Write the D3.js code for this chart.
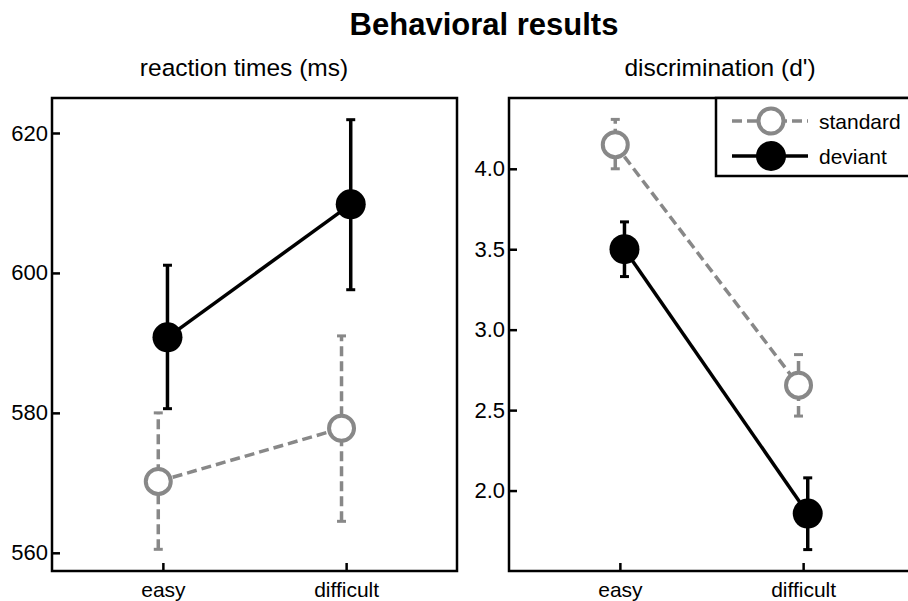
<!DOCTYPE html>
<html>
<head>
<meta charset="utf-8">
<script src="https://cdn.jsdelivr.net/npm/d3@7"></script>
<style>
  body { margin: 0; background: #fff; }
  svg { display: block; font-family: "Liberation Sans", Arial, sans-serif; }
</style>
</head>
<body>
<div id="chart"></div>
<script>
// conditions and legend entries
var conditions = ["easy", "difficult"];
var seriesNames = ["standard", "deviant"];

// reaction times (ms): mean, lower and upper end of error bar
var rtStandard = [570.2, 577.8];
var rtStandardLow = [560.5, 564.5];
var rtStandardHigh = [580.0, 591.0];
var rtDeviant = [590.8, 609.8];
var rtDeviantLow = [580.6, 597.6];
var rtDeviantHigh = [601.1, 621.9];
var rtTicks = [560, 580, 600, 620];

// discrimination (d')
var dpStandard = [4.15, 2.655];
var dpStandardLow = [4.0, 2.463];
var dpStandardHigh = [4.307, 2.845];
var dpDeviant = [3.5, 1.857];
var dpDeviantLow = [3.33, 1.633];
var dpDeviantHigh = [3.67, 2.079];
var dpTicks = [2.0, 2.5, 3.0, 3.5, 4.0];

var grey = "#888888";

function rows(mean, low, high) {
    return conditions.map(function(c, i) {
        return {cond: c, mean: mean[i], low: low[i], high: high[i]};
    });
}

var panels = [
    {title: "reaction times (ms)", titleX: 244, left: 52, domain: [557.4, 625],
     ticks: rtTicks, fmt: d3.format("d"),
     standard: rows(rtStandard, rtStandardLow, rtStandardHigh),
     deviant: rows(rtDeviant, rtDeviantLow, rtDeviantHigh)},
    {title: "discrimination (d')", titleX: 720, left: 509, domain: [1.5, 4.44],
     ticks: dpTicks, fmt: d3.format(".1f"),
     standard: rows(dpStandard, dpStandardLow, dpStandardHigh),
     deviant: rows(dpDeviant, dpDeviantLow, dpDeviantHigh)}
];

var W = 908, H = 601;
var plotTop = 98, boxW = 405, boxH = 473;

var svg = d3.select("#chart")
    .append("svg")
    .attr("width", W)
    .attr("height", H);

svg.append("text")
    .attr("x", 484)
    .attr("y", 35)
    .attr("text-anchor", "middle")
    .style("font-size", "31px")
    .style("font-weight", "bold")
    .text("Behavioral results");

var styles = {
    standard: {color: grey, dash: "10,5", off: -4.6},
    deviant: {color: "#000", dash: null, off: 4.6}
};

panels.forEach(function(p) {
    svg.append("text")
        .attr("x", p.titleX)
        .attr("y", 76)
        .attr("text-anchor", "middle")
        .style("font-size", "24.5px")
        .text(p.title);

    var g = svg.append("g")
        .attr("transform", "translate(" + p.left + "," + plotTop + ")");

    var x = d3.scalePoint()
        .domain(conditions)
        .range([0, boxW])
        .padding(0.605);

    var y = d3.scaleLinear()
        .domain(p.domain)
        .range([boxH, 0]);

    // axes, ticks pointing inside
    var ya = g.append("g")
        .call(d3.axisLeft(y).tickValues(p.ticks).tickFormat(p.fmt).tickSize(-8).tickPadding(4));
    var xa = g.append("g")
        .attr("transform", "translate(0," + boxH + ")")
        .call(d3.axisBottom(x).tickSize(-8).tickPadding(11));
    [ya, xa].forEach(function(a) {
        a.attr("font-family", null);
        a.select(".domain").remove();
        a.selectAll("line").attr("stroke", "#000").attr("stroke-width", 2.5);
        a.selectAll("text").attr("fill", "#000");
    });
    ya.attr("font-size", 22);
    xa.attr("font-size", 21);

    seriesNames.forEach(function(s) {
        var st = styles[s];
        var data = p[s];
        var cx = function(d) { return x(d.cond) + st.off; };

        // error bars
        var eb = g.append("g");
        eb.selectAll("line.bar")
            .data(data)
            .enter()
            .append("line")
            .attr("x1", cx).attr("x2", cx)
            .attr("y1", function(d) { return y(d.low); })
            .attr("y2", function(d) { return y(d.high); })
            .attr("stroke", st.color)
            .attr("stroke-width", 3.5)
            .attr("stroke-dasharray", st.dash);
        ["low", "high"].forEach(function(k) {
            eb.selectAll("line.cap-" + k)
                .data(data)
                .enter()
                .append("line")
                .attr("x1", function(d) { return cx(d) - 4.5; })
                .attr("x2", function(d) { return cx(d) + 4.5; })
                .attr("y1", function(d) { return y(d[k]); })
                .attr("y2", function(d) { return y(d[k]); })
                .attr("stroke", st.color)
                .attr("stroke-width", 3);
        });

        g.append("path")
            .datum(data)
            .attr("fill", "none")
            .attr("stroke", st.color)
            .attr("stroke-width", 3.5)
            .attr("stroke-dasharray", st.dash)
            .attr("d", d3.line().x(cx).y(function(d) { return y(d.mean); }));

        g.selectAll("circle." + s)
            .data(data)
            .enter()
            .append("circle")
            .attr("cx", cx)
            .attr("cy", function(d) { return y(d.mean); })
            .attr("r", s === "standard" ? 12.5 : 15)
            .attr("fill", s === "standard" ? "#fff" : "#000")
            .attr("stroke", s === "standard" ? grey : "none")
            .attr("stroke-width", 4);
    });

    g.append("rect")
        .attr("width", boxW)
        .attr("height", boxH)
        .attr("fill", "none")
        .attr("stroke", "#000")
        .attr("stroke-width", 2.5);
});

// legend
var lg = svg.append("g").attr("transform", "translate(716," + plotTop + ")");
lg.append("rect")
    .attr("width", 240)
    .attr("height", 78)
    .attr("fill", "#fff")
    .attr("stroke", "#000")
    .attr("stroke-width", 2.5);
seriesNames.forEach(function(s, i) {
    var st = styles[s];
    var ly = 23 + i * 35;
    lg.append("line")
        .attr("x1", 16).attr("x2", 92)
        .attr("y1", ly).attr("y2", ly)
        .attr("stroke", st.color)
        .attr("stroke-width", 3.5)
        .attr("stroke-dasharray", st.dash);
    lg.append("circle")
        .attr("cx", 55).attr("cy", ly)
        .attr("r", s === "standard" ? 12.5 : 15)
        .attr("fill", s === "standard" ? "#fff" : "#000")
        .attr("stroke", s === "standard" ? grey : "none")
        .attr("stroke-width", 4);
    lg.append("text")
        .attr("x", 103)
        .attr("y", ly + 7.5)
        .style("font-size", "21px")
        .text(s);
});
</script>
</body>
</html>
